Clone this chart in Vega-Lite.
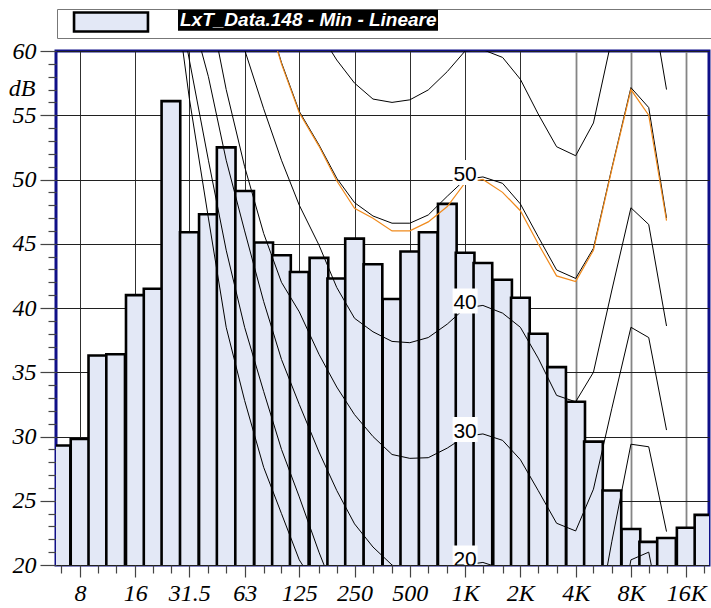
{
  "$schema": "https://vega.github.io/schema/vega-lite/v6.json",
  "width": 653,
  "height": 514,
  "autosize": {"type": "none"},
  "padding": {"left": 56, "top": 51, "right": 2, "bottom": 43},
  "background": "white",
  "config": {
    "view": {"stroke": "#101088", "strokeWidth": 3},
    "font": "Liberation Sans"
  },
  "datasets": {
    "bars": [
      {"s": "LxT_Data.148 - Min - Lineare", "f": 6.3, "v": 29.3}, {"s": "LxT_Data.148 - Min - Lineare", "f": 8, "v": 29.8},
      {"s": "LxT_Data.148 - Min - Lineare", "f": 10, "v": 36.3}, {"s": "LxT_Data.148 - Min - Lineare", "f": 12.5, "v": 36.4},
      {"s": "LxT_Data.148 - Min - Lineare", "f": 16, "v": 41.0}, {"s": "LxT_Data.148 - Min - Lineare", "f": 20, "v": 41.5},
      {"s": "LxT_Data.148 - Min - Lineare", "f": 25, "v": 56.1}, {"s": "LxT_Data.148 - Min - Lineare", "f": 31.5, "v": 45.9},
      {"s": "LxT_Data.148 - Min - Lineare", "f": 40, "v": 47.3}, {"s": "LxT_Data.148 - Min - Lineare", "f": 50, "v": 52.5},
      {"s": "LxT_Data.148 - Min - Lineare", "f": 63, "v": 49.1}, {"s": "LxT_Data.148 - Min - Lineare", "f": 80, "v": 45.1},
      {"s": "LxT_Data.148 - Min - Lineare", "f": 100, "v": 44.1}, {"s": "LxT_Data.148 - Min - Lineare", "f": 125, "v": 42.8},
      {"s": "LxT_Data.148 - Min - Lineare", "f": 160, "v": 43.9}, {"s": "LxT_Data.148 - Min - Lineare", "f": 200, "v": 42.3},
      {"s": "LxT_Data.148 - Min - Lineare", "f": 250, "v": 45.4}, {"s": "LxT_Data.148 - Min - Lineare", "f": 315, "v": 43.4},
      {"s": "LxT_Data.148 - Min - Lineare", "f": 400, "v": 40.7}, {"s": "LxT_Data.148 - Min - Lineare", "f": 500, "v": 44.4},
      {"s": "LxT_Data.148 - Min - Lineare", "f": 630, "v": 45.9}, {"s": "LxT_Data.148 - Min - Lineare", "f": 800, "v": 48.1},
      {"s": "LxT_Data.148 - Min - Lineare", "f": 1000, "v": 44.3}, {"s": "LxT_Data.148 - Min - Lineare", "f": 1250, "v": 43.5},
      {"s": "LxT_Data.148 - Min - Lineare", "f": 1600, "v": 42.2}, {"s": "LxT_Data.148 - Min - Lineare", "f": 2000, "v": 40.8},
      {"s": "LxT_Data.148 - Min - Lineare", "f": 2500, "v": 38.0}, {"s": "LxT_Data.148 - Min - Lineare", "f": 3150, "v": 35.4},
      {"s": "LxT_Data.148 - Min - Lineare", "f": 4000, "v": 32.7}, {"s": "LxT_Data.148 - Min - Lineare", "f": 5000, "v": 29.6},
      {"s": "LxT_Data.148 - Min - Lineare", "f": 6300, "v": 25.8}, {"s": "LxT_Data.148 - Min - Lineare", "f": 8000, "v": 22.8},
      {"s": "LxT_Data.148 - Min - Lineare", "f": 10000, "v": 21.8}, {"s": "LxT_Data.148 - Min - Lineare", "f": 12500, "v": 22.1},
      {"s": "LxT_Data.148 - Min - Lineare", "f": 16000, "v": 22.9}, {"s": "LxT_Data.148 - Min - Lineare", "f": 20000, "v": 23.9}
    ],
    "curves": [
      {"c": "0", "f": 20, "v": 76}, {"c": "0", "f": 25, "v": 67}, {"c": "0", "f": 31.5, "v": 56.3}, {"c": "0", "f": 40, "v": 47},
      {"c": "0", "f": 50, "v": 38.5}, {"c": "0", "f": 63, "v": 32.8}, {"c": "0", "f": 80, "v": 27.6}, {"c": "0", "f": 100, "v": 24},
      {"c": "0", "f": 125, "v": 20.4}, {"c": "0", "f": 160, "v": 18}, {"c": "0", "f": 200, "v": 16},

      {"c": "10", "f": 20, "v": 78}, {"c": "10", "f": 25, "v": 67}, {"c": "10", "f": 31.5, "v": 59.3}, {"c": "10", "f": 40, "v": 51.5},
      {"c": "10", "f": 50, "v": 44.5}, {"c": "10", "f": 63, "v": 38.5}, {"c": "10", "f": 80, "v": 33.5}, {"c": "10", "f": 100, "v": 29},
      {"c": "10", "f": 125, "v": 25.3}, {"c": "10", "f": 160, "v": 21}, {"c": "10", "f": 200, "v": 17.5}, {"c": "10", "f": 250, "v": 14.5},
      {"c": "10", "f": 315, "v": 12}, {"c": "10", "f": 400, "v": 10.5}, {"c": "10", "f": 500, "v": 9.5}, {"c": "10", "f": 630, "v": 9.2},
      {"c": "10", "f": 800, "v": 9.5}, {"c": "10", "f": 1000, "v": 10}, {"c": "10", "f": 1250, "v": 10.2}, {"c": "10", "f": 1600, "v": 9.7},
      {"c": "10", "f": 2000, "v": 8.7}, {"c": "10", "f": 2500, "v": 6.4}, {"c": "10", "f": 3150, "v": 3.8}, {"c": "10", "f": 4000, "v": 3},
      {"c": "10", "f": 5000, "v": 4.5}, {"c": "10", "f": 6300, "v": 12.3}, {"c": "10", "f": 8000, "v": 20.4}, {"c": "10", "f": 10000, "v": 21.0},
      {"c": "10", "f": 12500, "v": 14},

      {"c": "20", "f": 25, "v": 72}, {"c": "20", "f": 31.5, "v": 63.5}, {"c": "20", "f": 40, "v": 58}, {"c": "20", "f": 50, "v": 51.5},
      {"c": "20", "f": 63, "v": 46}, {"c": "20", "f": 80, "v": 40.5}, {"c": "20", "f": 100, "v": 36}, {"c": "20", "f": 125, "v": 32.5},
      {"c": "20", "f": 160, "v": 28.8}, {"c": "20", "f": 200, "v": 25.8}, {"c": "20", "f": 250, "v": 23.2}, {"c": "20", "f": 315, "v": 21.4},
      {"c": "20", "f": 400, "v": 20}, {"c": "20", "f": 500, "v": 19.2}, {"c": "20", "f": 630, "v": 19}, {"c": "20", "f": 800, "v": 19.3},
      {"c": "20", "f": 1000, "v": 20}, {"c": "20", "f": 1250, "v": 20.2}, {"c": "20", "f": 1600, "v": 19.7}, {"c": "20", "f": 2000, "v": 18.5},
      {"c": "20", "f": 2500, "v": 16}, {"c": "20", "f": 3150, "v": 13.5}, {"c": "20", "f": 4000, "v": 12.7}, {"c": "20", "f": 5000, "v": 14},
      {"c": "20", "f": 6300, "v": 21.85}, {"c": "20", "f": 8000, "v": 29.4}, {"c": "20", "f": 10000, "v": 29.2}, {"c": "20", "f": 12500, "v": 22.6},

      {"c": "30", "f": 31.5, "v": 71}, {"c": "30", "f": 40, "v": 64}, {"c": "30", "f": 50, "v": 57}, {"c": "30", "f": 63, "v": 51},
      {"c": "30", "f": 80, "v": 45.8}, {"c": "30", "f": 100, "v": 42}, {"c": "30", "f": 125, "v": 39.7}, {"c": "30", "f": 160, "v": 36.4},
      {"c": "30", "f": 200, "v": 33.85}, {"c": "30", "f": 250, "v": 31.7}, {"c": "30", "f": 315, "v": 30.0}, {"c": "30", "f": 400, "v": 28.6},
      {"c": "30", "f": 500, "v": 28.3}, {"c": "30", "f": 630, "v": 28.35}, {"c": "30", "f": 800, "v": 29.1}, {"c": "30", "f": 1000, "v": 30},
      {"c": "30", "f": 1250, "v": 30.2}, {"c": "30", "f": 1600, "v": 29.7}, {"c": "30", "f": 2000, "v": 28.2}, {"c": "30", "f": 2500, "v": 25.8},
      {"c": "30", "f": 3150, "v": 23.25}, {"c": "30", "f": 4000, "v": 22.65}, {"c": "30", "f": 5000, "v": 25.9}, {"c": "30", "f": 6300, "v": 32.2},
      {"c": "30", "f": 8000, "v": 38.5}, {"c": "30", "f": 10000, "v": 37.7}, {"c": "30", "f": 12500, "v": 30.5},

      {"c": "40", "f": 50, "v": 66}, {"c": "40", "f": 63, "v": 60.1}, {"c": "40", "f": 80, "v": 55.5}, {"c": "40", "f": 100, "v": 51.5},
      {"c": "40", "f": 125, "v": 48.0}, {"c": "40", "f": 160, "v": 44.9}, {"c": "40", "f": 200, "v": 41.6}, {"c": "40", "f": 250, "v": 39.2},
      {"c": "40", "f": 315, "v": 38.15}, {"c": "40", "f": 400, "v": 37.4}, {"c": "40", "f": 500, "v": 37.3}, {"c": "40", "f": 630, "v": 37.7},
      {"c": "40", "f": 800, "v": 38.75}, {"c": "40", "f": 1000, "v": 40}, {"c": "40", "f": 1250, "v": 40.2}, {"c": "40", "f": 1600, "v": 39.6},
      {"c": "40", "f": 2000, "v": 38.5}, {"c": "40", "f": 2500, "v": 36.1}, {"c": "40", "f": 3150, "v": 33.2}, {"c": "40", "f": 4000, "v": 32.7},
      {"c": "40", "f": 5000, "v": 35.0}, {"c": "40", "f": 6300, "v": 41.4}, {"c": "40", "f": 8000, "v": 47.8}, {"c": "40", "f": 10000, "v": 46.5},
      {"c": "40", "f": 12500, "v": 38.6},

      {"c": "50", "f": 63, "v": 69}, {"c": "50", "f": 80, "v": 63.7}, {"c": "50", "f": 100, "v": 59.1}, {"c": "50", "f": 125, "v": 55.3},
      {"c": "50", "f": 160, "v": 52.7}, {"c": "50", "f": 200, "v": 50.1}, {"c": "50", "f": 250, "v": 48.2}, {"c": "50", "f": 315, "v": 47.16},
      {"c": "50", "f": 400, "v": 46.6}, {"c": "50", "f": 500, "v": 46.6}, {"c": "50", "f": 630, "v": 47.24}, {"c": "50", "f": 800, "v": 48.7},
      {"c": "50", "f": 1000, "v": 50}, {"c": "50", "f": 1250, "v": 50.2}, {"c": "50", "f": 1600, "v": 49.7}, {"c": "50", "f": 2000, "v": 48.1},
      {"c": "50", "f": 2500, "v": 45.55}, {"c": "50", "f": 3150, "v": 42.96}, {"c": "50", "f": 4000, "v": 42.3}, {"c": "50", "f": 5000, "v": 44.65},
      {"c": "50", "f": 6300, "v": 50.9}, {"c": "50", "f": 8000, "v": 57.15}, {"c": "50", "f": 10000, "v": 55.6}, {"c": "50", "f": 12500, "v": 47.0},

      {"c": "60", "f": 100, "v": 68}, {"c": "60", "f": 125, "v": 64}, {"c": "60", "f": 160, "v": 61.5}, {"c": "60", "f": 200, "v": 59.3},
      {"c": "60", "f": 250, "v": 57.5}, {"c": "60", "f": 315, "v": 56.26}, {"c": "60", "f": 400, "v": 56.0}, {"c": "60", "f": 500, "v": 56.2},
      {"c": "60", "f": 630, "v": 56.97}, {"c": "60", "f": 800, "v": 58.4}, {"c": "60", "f": 1000, "v": 60}, {"c": "60", "f": 1250, "v": 60.1},
      {"c": "60", "f": 1600, "v": 59.5}, {"c": "60", "f": 2000, "v": 57.8}, {"c": "60", "f": 2500, "v": 55.1}, {"c": "60", "f": 3150, "v": 52.55},
      {"c": "60", "f": 4000, "v": 51.85}, {"c": "60", "f": 5000, "v": 54.4}, {"c": "60", "f": 6300, "v": 61}, {"c": "60", "f": 8000, "v": 66.7},
      {"c": "60", "f": 10000, "v": 65.2}, {"c": "60", "f": 12500, "v": 57.0}
    ],
    "orange": [
      {"f": 63, "v": 68.9}, {"f": 80, "v": 63.6}, {"f": 100, "v": 59.0}, {"f": 125, "v": 55.2},
      {"f": 160, "v": 52.6}, {"f": 200, "v": 49.9}, {"f": 250, "v": 47.76}, {"f": 315, "v": 46.98},
      {"f": 400, "v": 46.0}, {"f": 500, "v": 46.0}, {"f": 630, "v": 46.7}, {"f": 800, "v": 47.9},
      {"f": 1000, "v": 49.75}, {"f": 1250, "v": 50.0}, {"f": 1600, "v": 49.0}, {"f": 2000, "v": 47.57},
      {"f": 2500, "v": 45.0}, {"f": 3150, "v": 42.5}, {"f": 4000, "v": 42.05}, {"f": 5000, "v": 44.5},
      {"f": 6300, "v": 50.8}, {"f": 8000, "v": 57.0}, {"f": 10000, "v": 55.0}, {"f": 12500, "v": 46.8}
    ],
    "labels": [
      {"f": 1000, "v": 20, "t": "20"}, {"f": 1000, "v": 30, "t": "30"},
      {"f": 1000, "v": 40, "t": "40"}, {"f": 1000, "v": 50, "t": "50"}
    ]
  },
  "encoding": {
    "x": {
      "field": "f", "type": "quantitative",
      "scale": {"type": "log", "domain": [6.3, 20000], "nice": false, "zero": false},
      "axis": {
        "values": [6.3, 8, 10, 12.5, 16, 20, 25, 31.5, 40, 50, 63, 80, 100, 125, 160, 200, 250, 315, 400, 500, 630, 800, 1000, 1250, 1600, 2000, 2500, 3150, 4000, 5000, 6300, 8000, 10000, 12500, 16000, 20000],
        "labelExpr": "indexof([8,16,31.5,63,125,250,500,1000,2000,4000,8000,16000], datum.value) >= 0 ? (datum.value >= 1000 ? (datum.value / 1000) + 'K' : '' + datum.value) : ''",
        "tickSize": {"condition": {"test": "indexof([8,16,31.5,63,125,250,500,1000,2000,4000,8000,16000], datum.value) >= 0", "value": 12}, "value": 8},
        "grid": true,
        "gridOpacity": {"condition": {"test": "indexof([8,16,31.5,63,125,250,500,1000,2000,4000,8000,16000], datum.value) >= 0", "value": 1}, "value": 0},
        "gridColor": {"condition": {"test": "datum.value >= 4000", "value": "#858585"}, "value": "#303030"},
        "gridWidth": {"condition": {"test": "datum.value >= 4000", "value": 1.8}, "value": 1},
        "domain": false,
        "tickColor": "#444",
        "tickWidth": 1.2,
        "labelFont": "Liberation Serif",
        "labelFontStyle": "italic",
        "labelFontSize": 24,
        "labelColor": "black",
        "labelPadding": 4,
        "labelOverlap": false,
        "labelFlush": false,
        "title": null
      }
    },
    "y": {
      "field": "v", "type": "quantitative",
      "scale": {"domain": [20, 60], "nice": false, "zero": false},
      "axis": {
        "values": [20,21,22,23,24,25,26,27,28,29,30,31,32,33,34,35,36,37,38,39,40,41,42,43,44,45,46,47,48,49,50,51,52,53,54,55,56,57,58,59,60],
        "labelExpr": "datum.value % 5 === 0 ? '' + datum.value : ''",
        "tickSize": {"condition": {"test": "datum.value % 5 === 0", "value": 16}, "value": 8},
        "grid": true,
        "gridOpacity": {"condition": {"test": "datum.value % 5 === 0", "value": 1}, "value": 0},
        "gridColor": "#202020",
        "gridWidth": 1,
        "domain": false,
        "tickColor": "#444",
        "tickWidth": 1.2,
        "labelFont": "Liberation Serif",
        "labelFontStyle": "italic",
        "labelFontSize": 24,
        "labelColor": "black",
        "labelPadding": 4,
        "labelOverlap": false,
        "labelFlush": false,
        "title": "dB",
        "titleAngle": 0,
        "titleAlign": "right",
        "titleBaseline": "alphabetic",
        "titleX": -21,
        "titleY": 44,
        "titleFont": "Liberation Serif",
        "titleFontStyle": "italic",
        "titleFontWeight": "normal",
        "titleFontSize": 24,
        "titleColor": "black"
      }
    }
  },
  "layer": [
    {
      "data": {"name": "bars"},
      "mark": {"type": "bar", "orient": "vertical", "width": 18.67, "strokeWidth": 2.6, "clip": true},
      "encoding": {
        "fill": {
          "field": "s", "type": "nominal",
          "scale": {"range": ["#e3e8f6"]},
          "legend": {
            "orient": "none", "legendX": 1, "legendY": -42, "title": null,
            "symbolType": "M-3.52,-0.9H3.52V0.9H-3.52Z M56.75,0", "symbolSize": 441,
            "symbolStrokeColor": "#000000", "symbolStrokeWidth": 2.6,
            "symbolOffset": 41,
            "labelExpr": "''",
            "labelOffset": 0,
            "strokeColor": "#777777", "padding": 1
          }
        },
        "stroke": {
          "datum": "LxT_Data.148 - Min - Lineare", "type": "nominal",
          "scale": {"range": ["#000000"]},
          "legend": {
            "orient": "none", "legendX": 241.5, "legendY": -41.2, "title": null,
            "symbolType": "M-12.38,-1H12.38V1H-12.38Z", "symbolSize": 441,
            "symbolFillColor": "#000000", "symbolStrokeColor": "#000000", "symbolStrokeWidth": 0,
            "symbolOffset": 0, "padding": 0,
            "labelOffset": -138.5, "labelColor": "white", "labelFont": "Liberation Sans",
            "labelFontStyle": "italic", "labelFontWeight": "bold", "labelFontSize": 19, "labelLimit": 1000
          }
        }
      }
    },
    {
      "data": {"name": "curves"},
      "mark": {"type": "line", "color": "black", "strokeWidth": 1, "clip": true},
      "encoding": {"detail": {"field": "c", "type": "nominal"}}
    },
    {
      "data": {"name": "orange"},
      "mark": {"type": "line", "color": "#f08a1c", "strokeWidth": 1.2, "clip": true},
      "encoding": {}
    },
    {
      "data": {"name": "labels"},
      "mark": {"type": "square", "size": 625, "color": "white", "filled": true, "opacity": 1, "yOffset": -7, "clip": true},
      "encoding": {}
    },
    {
      "data": {"name": "labels"},
      "mark": {"type": "text", "font": "Liberation Sans", "fontSize": 21, "baseline": "alphabetic", "align": "center", "dy": 1, "color": "black", "clip": true},
      "encoding": {"text": {"field": "t", "type": "nominal"}}
    }
  ]
}
